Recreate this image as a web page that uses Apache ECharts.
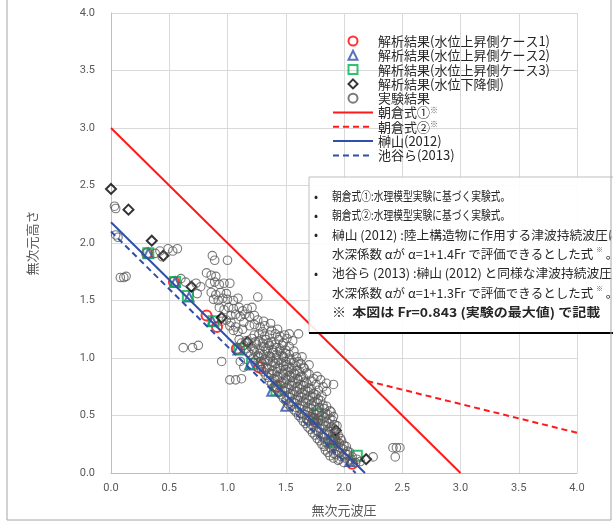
<!DOCTYPE html>
<html>
<head>
<meta charset="utf-8">
<script src="https://cdn.jsdelivr.net/npm/echarts@6.0.0/dist/echarts.min.js"></script>
<style>
  html, body { margin: 0; padding: 0; background: #fff; }
  #main { width: 613px; height: 529px; }
</style>
</head>
<body>
<div id="main"></div>
<script>
// 軸目盛
const xTicks = [0, 4.0, 0.5];
const yTicks = [0, 4.0, 0.5];

// 解析結果
const case1Points = [[0.31,1.91],[0.54,1.66],[0.82,1.37],[0.91,1.27],[1.08,1.08],[1.27,0.92],[1.42,0.75],[1.74,0.47],[1.92,0.29],[2.07,0.08]];
const case2Points = [[0.32,1.91],[0.55,1.66],[0.67,1.53],[0.87,1.32],[1.09,1.07],[1.19,0.94],[1.38,0.71],[1.50,0.58],[1.75,0.46],[1.90,0.29],[2.05,0.10]];
const case3Points = [[0.32,1.91],[0.55,1.66],[0.66,1.54],[0.88,1.32],[1.10,1.08],[1.21,0.95],[1.42,0.72],[1.77,0.51],[1.90,0.27],[2.11,0.15]];
const fallPoints  = [[0.0,2.47],[0.15,2.29],[0.35,2.02],[0.45,1.89],[0.69,1.62],[0.95,1.35],[1.17,1.14],[1.93,0.37],[2.19,0.12]];

// 実験結果
const expPoints = [
  [0.03,2.32],[0.04,2.30],[0.04,2.07],[0.06,2.05],[0.08,1.70],[0.11,1.70],[0.13,1.71],
  [0.38,1.91],[0.42,1.93],[0.49,1.95],[0.53,1.93],[0.57,1.95],[0.44,1.88],
  [0.60,1.69],[0.64,1.66],[0.73,1.65],[0.77,1.62],
  [0.87,1.89],[0.89,1.85],[1.00,1.85],
  [0.82,1.74],[0.86,1.72],[0.90,1.71],
  [0.85,1.65],[0.89,1.66],[0.93,1.64],[0.97,1.65],[1.02,1.65],
  [0.74,1.56],[0.86,1.57],[0.90,1.55],[0.94,1.57],[0.99,1.56],
  [0.88,1.51],[0.92,1.50],[0.96,1.52],[1.00,1.51],[1.05,1.50],[1.09,1.52],[1.26,1.53],
  [0.93,1.44],[0.97,1.42],[1.01,1.44],[1.05,1.43],[1.10,1.44],[1.13,1.41],[1.17,1.43],[1.21,1.44],
  [1.03,1.37],[1.07,1.38],[1.11,1.36],[1.15,1.38],[1.19,1.36],[1.23,1.37],
  [0.95,1.32],[0.99,1.33],[1.03,1.31],[1.14,1.31],[1.26,1.33],[1.31,1.32],
  [1.02,1.28],[1.07,1.27],[1.19,1.28],[1.23,1.29],[1.28,1.27],[1.32,1.28],[1.37,1.30],
  [1.05,1.24],[1.09,1.23],[1.13,1.25],[1.30,1.23],[1.38,1.24],[1.43,1.25],
  [1.23,1.20],[1.27,1.21],[1.32,1.19],[1.36,1.20],[1.41,1.21],[1.45,1.19],[1.49,1.20],[1.53,1.21],[1.61,1.21],
  [0.62,1.09],[0.70,1.09],[0.75,1.11],
  [1.10,1.16],[1.16,1.15],[1.21,1.17],[1.27,1.15],[1.33,1.16],[1.38,1.14],[1.44,1.16],[1.51,1.17],[1.56,1.15],
  [1.12,1.13],[1.18,1.13],[1.24,1.14],[1.30,1.13],[1.35,1.13],[1.41,1.12],[1.48,1.13],
  [1.14,1.11],[1.20,1.10],[1.25,1.12],[1.31,1.10],[1.36,1.11],[1.42,1.09],[1.47,1.11],[1.53,1.10],
  [1.16,1.08],[1.22,1.08],[1.28,1.07],[1.33,1.08],[1.39,1.07],[1.45,1.08],[1.50,1.07],
  [1.18,1.05],[1.23,1.06],[1.28,1.04],[1.34,1.06],[1.39,1.05],[1.45,1.06],[1.50,1.04],[1.57,1.06],
  [1.20,1.03],[1.26,1.02],[1.31,1.03],[1.36,1.02],[1.42,1.03],[1.47,1.02],[1.53,1.03],
  [0.95,0.97],[1.11,0.97],[1.14,0.92],
  [1.22,1.00],[1.27,1.01],[1.32,0.99],[1.37,1.01],[1.42,1.00],[1.48,1.01],[1.53,0.99],[1.59,1.01],[1.64,1.01],
  [1.24,0.98],[1.29,0.97],[1.34,0.98],[1.39,0.97],[1.44,0.98],[1.50,0.97],[1.55,0.98],[1.61,0.97],
  [1.26,0.96],[1.30,0.95],[1.35,0.97],[1.41,0.95],[1.46,0.96],[1.51,0.94],[1.57,0.96],[1.63,0.95],[1.70,0.94],
  [1.28,0.93],[1.33,0.92],[1.38,0.93],[1.43,0.92],[1.48,0.93],[1.53,0.92],[1.59,0.93],[1.65,0.92],
  [1.29,0.90],[1.34,0.91],[1.39,0.89],[1.45,0.91],[1.50,0.90],[1.55,0.91],[1.60,0.89],[1.66,0.91],
  [1.31,0.88],[1.36,0.87],[1.42,0.88],[1.47,0.87],[1.52,0.88],[1.57,0.87],[1.62,0.88],[1.68,0.87],
  [1.02,0.81],[1.07,0.81],[1.12,0.82],
  [1.33,0.85],[1.38,0.86],[1.43,0.84],[1.48,0.86],[1.53,0.85],[1.58,0.86],[1.63,0.84],[1.70,0.86],[1.77,0.84],
  [1.35,0.83],[1.40,0.82],[1.45,0.83],[1.50,0.82],[1.55,0.83],[1.60,0.82],[1.65,0.83],[1.74,0.82],
  [1.36,0.80],[1.41,0.81],[1.46,0.79],[1.51,0.81],[1.56,0.80],[1.61,0.81],[1.66,0.79],[1.72,0.80],[1.80,0.81],
  [1.38,0.78],[1.43,0.77],[1.48,0.78],[1.53,0.77],[1.58,0.78],[1.63,0.77],[1.68,0.78],[1.76,0.77],
  [1.85,0.78],[1.91,0.77],
  [1.40,0.75],[1.45,0.76],[1.50,0.74],[1.55,0.76],[1.60,0.75],[1.65,0.76],[1.70,0.74],[1.82,0.75],
  [1.42,0.73],[1.47,0.72],[1.52,0.73],[1.57,0.72],[1.62,0.73],[1.67,0.72],[1.72,0.73],[1.78,0.72],
  [1.44,0.70],[1.49,0.71],[1.54,0.69],[1.59,0.71],[1.64,0.70],[1.69,0.71],[1.74,0.69],[1.85,0.71],
  [1.46,0.68],[1.51,0.67],[1.56,0.68],[1.61,0.67],[1.66,0.68],[1.71,0.67],[1.76,0.68],[1.81,0.67],
  [1.48,0.65],[1.53,0.66],[1.58,0.64],[1.63,0.66],[1.68,0.65],[1.73,0.66],[1.78,0.64],
  [1.50,0.63],[1.55,0.62],[1.60,0.63],[1.65,0.62],[1.70,0.63],[1.75,0.62],[1.80,0.63],
  [1.52,0.60],[1.57,0.61],[1.62,0.59],[1.67,0.61],[1.72,0.60],[1.77,0.61],[1.82,0.59],
  [1.54,0.58],[1.59,0.57],[1.64,0.58],[1.69,0.57],[1.74,0.58],[1.79,0.57],[1.85,0.58],
  [1.57,0.55],[1.62,0.56],[1.67,0.54],[1.72,0.56],[1.77,0.55],[1.83,0.56],[1.88,0.54],
  [1.59,0.53],[1.64,0.52],[1.69,0.53],[1.74,0.52],[1.79,0.53],[1.84,0.52],[1.89,0.53],
  [1.61,0.50],[1.66,0.51],[1.71,0.49],[1.76,0.51],[1.81,0.50],[1.86,0.51],[1.91,0.49],
  [1.63,0.48],[1.68,0.47],[1.73,0.48],[1.78,0.47],[1.83,0.48],[1.88,0.47],
  [1.65,0.45],[1.70,0.46],[1.75,0.44],[1.80,0.46],[1.85,0.45],[1.90,0.46],
  [1.67,0.43],[1.72,0.42],[1.77,0.43],[1.82,0.42],[1.87,0.43],[1.92,0.42],
  [1.69,0.40],[1.74,0.41],[1.79,0.39],[1.84,0.41],[1.89,0.40],[1.94,0.41],
  [1.71,0.38],[1.76,0.37],[1.81,0.38],[1.86,0.37],[1.91,0.38],
  [1.73,0.35],[1.78,0.36],[1.83,0.34],[1.88,0.36],[1.93,0.35],
  [1.75,0.33],[1.80,0.32],[1.85,0.33],[1.90,0.32],[1.95,0.33],
  [1.77,0.30],[1.82,0.31],[1.87,0.29],[1.92,0.31],[1.97,0.30],
  [1.79,0.28],[1.84,0.27],[1.89,0.28],[1.94,0.27],[1.98,0.28],
  [1.81,0.25],[1.86,0.26],[1.91,0.24],[1.96,0.26],[2.00,0.24],
  [1.83,0.23],[1.88,0.22],[1.93,0.23],[1.97,0.22],[2.02,0.23],
  [1.84,0.20],[1.89,0.21],[1.94,0.19],[1.99,0.21],[2.03,0.19],
  [1.86,0.18],[1.91,0.17],[1.96,0.18],[2.01,0.17],[2.05,0.18],
  [1.88,0.15],[1.93,0.16],[1.98,0.14],[2.03,0.16],[2.07,0.14],
  [1.91,0.13],[1.96,0.12],[2.01,0.13],[2.06,0.12],[2.11,0.12],
  [1.95,0.11],[2.00,0.09],[2.05,0.11],[2.10,0.09],[2.14,0.10],
  [2.25,0.14],[2.42,0.22],[2.45,0.22],[2.48,0.22],[2.44,0.14]
];

// 評価式
const asakura1X = [0, 3.0],   asakura1Y = [3.0, 0];
const asakura2X = [2.2, 4.0], asakura2Y = [0.8, 0.35];
const sakakiX   = [0, 2.18],  sakakiY   = [2.18, 0];
const iketaniX  = [0, 2.10],  iketaniY  = [2.10, 0];

// 凡例
const markerNames = ['解析結果(水位上昇側ケース1)', '解析結果(水位上昇側ケース2)', '解析結果(水位上昇側ケース3)', '解析結果(水位下降側)', '実験結果'];
const lineNames = ['朝倉式①※', '朝倉式②※', '榊山(2012)', '池谷ら(2013)'];

// 注記 (sx: 横方向の縮尺)
const noteLines = [
  { bullet: true,  bold: false, sx: 0.78, text: '朝倉式①:水理模型実験に基づく実験式。' },
  { bullet: true,  bold: false, sx: 0.78, text: '朝倉式②:水理模型実験に基づく実験式。' },
  { bullet: true,  bold: false, sx: 1.02, text: '榊山 (2012) :陸上構造物に作用する津波持続波圧について、' },
  { bullet: false, bold: false, sx: 1.0,  text: '水深係数 αが α=1+1.4Fr で評価できるとした式 {s|※} 。' },
  { bullet: true,  bold: false, sx: 1.02, text: '池谷ら (2013) :榊山 (2012) と同様な津波持続波圧について、' },
  { bullet: false, bold: false, sx: 1.0,  text: '水深係数 αが α=1+1.3Fr で評価できるとした式 {s|※} 。' },
  { bullet: false, bold: true,  sx: 1.12, text: '※  本図は Fr=0.843 (実験の最大値) で記載' }
];

const JP = '"Noto Sans CJK JP", sans-serif';
const zip = (xs, ys) => xs.map((x, i) => [x, ys[i]]);

function markerSeries(name, data, symbol, size, color, z) {
  return {
    name, type: 'scatter', data, symbol, symbolSize: size, z,
    itemStyle: { color: 'rgba(0,0,0,0)', borderColor: color, borderWidth: 2 },
    emphasis: { disabled: true }
  };
}

function lineSeries(name, data, color, dash) {
  return {
    name, type: 'line', data, symbol: 'none', showSymbol: false, z: 5,
    lineStyle: { color, width: 2, type: dash ? [6, 4] : 'solid' },
    itemStyle: { color },
    emphasis: { disabled: true }
  };
}

const chart = echarts.init(document.getElementById('main'), null, { renderer: 'canvas' });

const axisCommon = {
  type: 'value',
  nameLocation: 'middle',
  nameTextStyle: { color: '#595959', fontSize: 13, fontFamily: JP },
  axisLine: { show: true, lineStyle: { color: '#bfbfbf' } },
  axisTick: { show: false },
  splitLine: { show: true, lineStyle: { color: '#d9d9d9' } },
  axisLabel: { color: '#595959', fontSize: 11, fontFamily: 'Roboto, sans-serif', formatter: v => v.toFixed(1) }
};

const legendText = {
  color: '#262626', fontSize: 13, fontFamily: JP, lineHeight: 14,
  rich: {
    g: { width: 15.5 },
    s: { fontSize: 8, fontFamily: JP, color: '#595959', verticalAlign: 'top', padding: [0, 0, 8, 0] }
  }
};

const noteGraphics = [];
const boxX = 309, boxY = 177, boxH = 156;
noteGraphics.push({
  type: 'rect', z: 20,
  shape: { x: boxX, y: boxY, width: 330, height: boxH },
  style: { fill: 'rgba(255,255,255,0.9)', stroke: '#bfbfbf', lineWidth: 1 }
});
noteGraphics.push({
  type: 'line', z: 21,
  shape: { x1: boxX, y1: boxY + boxH, x2: 640, y2: boxY + boxH },
  style: { stroke: '#000', lineWidth: 2 }
});
noteLines.forEach((ln, i) => {
  const y = 196 + i * 19.4;
  if (ln.bullet) {
    noteGraphics.push({
      type: 'text', z: 22,
      style: { text: '•', x: 316, y, verticalAlign: 'middle', align: 'center', font: '12px ' + JP, fill: '#262626' }
    });
  }
  noteGraphics.push({
    type: 'text', z: 22,
    x: 332, y, scaleX: ln.sx,
    style: {
      text: ln.text, x: 0, y: 0, verticalAlign: 'middle',
      font: (ln.bold ? 'bold ' : '') + '12.5px ' + JP, fill: '#262626',
      rich: { s: { fontSize: 7, fontFamily: JP, fill: '#595959', verticalAlign: 'top', padding: [0, 0, 9, 0] } }
    }
  });
});
// 外枠
noteGraphics.push({
  type: 'rect', z: 30,
  shape: { x: 7, y: -5, width: 604, height: 525 },
  style: { fill: 'none', stroke: '#a6a6a6', lineWidth: 1 }
});

chart.setOption({
  backgroundColor: '#fff',
  animation: false,
  grid: { left: 111, top: 13, width: 466, height: 460 },
  xAxis: Object.assign({}, axisCommon, {
    name: '無次元波圧', nameGap: 31,
    min: xTicks[0], max: xTicks[1], interval: xTicks[2],
    axisLabel: Object.assign({}, axisCommon.axisLabel, { margin: 10 })
  }),
  yAxis: Object.assign({}, axisCommon, {
    name: '無次元高さ', nameGap: 72,
    min: yTicks[0], max: yTicks[1], interval: yTicks[2],
    axisLabel: Object.assign({}, axisCommon.axisLabel, { margin: 16 })
  }),
  legend: [
    {
      orient: 'vertical', left: 342.5, top: 29,
      itemWidth: 9, itemHeight: 9, itemGap: 0.3,
      selectedMode: false,
      textStyle: legendText,
      formatter: n => '{g|}' + n,
      data: markerNames
    },
    {
      orient: 'vertical', left: 327, top: 100.5,
      itemWidth: 40, itemHeight: 9, itemGap: 0.3,
      selectedMode: false,
      textStyle: legendText,
      formatter: n => n.replace('※', '{s|※}'),
      data: lineNames.map(n => ({ name: n, itemStyle: { opacity: 0 } }))
    }
  ],
  series: [
    markerSeries(markerNames[0], case1Points, 'circle', 10, '#ff0000', 2),
    markerSeries(markerNames[1], case2Points, 'triangle', 9, '#2f4faa', 2),
    markerSeries(markerNames[2], case3Points, 'rect', 10, '#00b050', 2),
    markerSeries(markerNames[3], fallPoints, 'diamond', 10, '#000000', 2),
    {
      name: markerNames[4], type: 'scatter', data: expPoints, symbol: 'circle', symbolSize: 8.5, z: 3,
      itemStyle: { color: 'rgba(0,0,0,0)', borderColor: '#595959', borderWidth: 1.1 },
      emphasis: { disabled: true }
    },
    lineSeries(lineNames[0], zip(asakura1X, asakura1Y), '#ff1a1a', false),
    lineSeries(lineNames[1], zip(asakura2X, asakura2Y), '#ff1a1a', true),
    lineSeries(lineNames[2], zip(sakakiX, sakakiY), '#2f4faa', false),
    lineSeries(lineNames[3], zip(iketaniX, iketaniY), '#2f4faa', true)
  ],
  graphic: noteGraphics
});
</script>
</body>
</html>
